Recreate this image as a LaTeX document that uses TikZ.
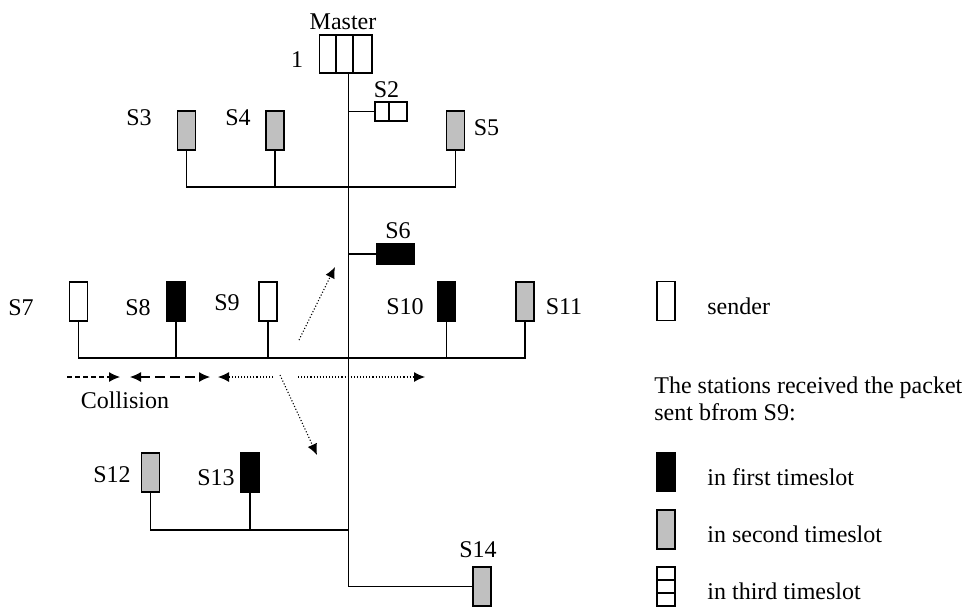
\documentclass[tikz,border=0pt]{standalone}
\usepackage{fontspec}
\setmainfont{Liberation Serif}
\usetikzlibrary{arrows.meta}
\definecolor{slotgray}{RGB}{192,192,192}
\tikzset{
 station/.style={draw,line width=0.65pt,minimum width=9pt,minimum height=19.5pt,inner sep=0pt},
 sender/.style={station,fill=white},
 first/.style={station,fill=black},
 second/.style={station,fill=slotgray},
 cell/.style={draw,line width=0.65pt,inner sep=0pt},
 wire/.style={line width=0.6pt},
 lbl/.style={inner sep=0pt,anchor=base},
 key/.style={inner sep=0pt,anchor=base west},
 hop/.style={line width=0.55pt,-{Latex[length=5.5pt,width=5pt]}}
}
\begin{document}
\begin{tikzpicture}[x=0.5pt,y=-0.5pt,>=Latex,font=\fontsize{12}{14}\selectfont]
\useasboundingbox (0,0) rectangle (962,606);
\node[cell,minimum width=8.5pt,minimum height=19pt] (m1) at (328,54){}; \node[cell,minimum width=8.5pt,minimum height=19pt] (m2) at (344.5,54){}; \node[cell,minimum width=9.5pt,minimum height=19pt] (m3) at (362.5,54){};
\node[lbl] (tmaster) at (343,29){Master}; \node[lbl] (tone) at (297,67){1};
\coordinate (top) at (348.5,73);
\node[cell,minimum width=7pt,minimum height=9.5pt] (s2a) at (382,111.5){}; \node[cell,minimum width=9pt,minimum height=9.5pt] (s2b) at (398,111.5){};
\node[lbl] (ts2) at (386.5,97){S2};
\node[second] (s3) at (186.5,130.5){}; \node[second] (s4) at (275,130.5){}; \node[second] (s5) at (455.5,130.5){};
\node[lbl] (ts3) at (139,125){S3}; \node[lbl] (ts4) at (238,125){S4}; \node[lbl] (ts5) at (486.5,135){S5};
\node[first,minimum width=18.5pt,minimum height=10pt] (s6) at (395.5,254){}; \node[lbl] (ts6) at (398,238){S6};
\node[sender] (s7) at (78.5,301.5){}; \node[first] (s8) at (176,301.5){}; \node[sender] (s9) at (268,301.5){};
\node[first] (s10) at (446.5,301.5){}; \node[second] (s11) at (525,301.5){};
\node[lbl] (ts7) at (21,315){S7}; \node[lbl] (ts8) at (138,315){S8}; \node[lbl] (ts9) at (227,310){S9};
\node[lbl] (ts10) at (405,314){S10}; \node[lbl] (ts11) at (564,314){S11};
\node[second] (s12) at (150.5,472.5){}; \node[first] (s13) at (250,472.5){};
\node[lbl] (ts12) at (112,482){S12}; \node[lbl] (ts13) at (216,485){S13};
\node[second] (s14) at (482,586.5){}; \node[lbl] (ts14) at (478,557){S14};
\coordinate (b1) at (348.5,187); \coordinate (b2) at (348.5,358); \coordinate (b3) at (348.5,530);
\draw[wire] (top) |- (s14.west);
\draw[wire] (s2a.west) -- (s2a.west -| top); \draw[wire] (s6.west) -- (s6.west -| top);
\draw[wire] (s3.south) -- (s3.south |- b1) -- (s5.south |- b1) -- (s5.south); \draw[wire] (s4.south) -- (s4.south |- b1);
\draw[wire] (s7.south) -- (s7.south |- b2) -- (s11.south |- b2) -- (s11.south);
\draw[wire] (s8.south) -- (s8.south |- b2); \draw[wire] (s9.south) -- (s9.south |- b2); \draw[wire] (s10.south) -- (s10.south |- b2);
\draw[wire] (s12.south) -- (s12.south |- b3) -- (b3); \draw[wire] (s13.south) -- (s13.south |- b3);
\coordinate (up0) at (299,340); \coordinate (up1) at (335,267);
\coordinate (dn0) at (280,375); \coordinate (dn1) at (317,455);
\coordinate (l0) at (273,377); \coordinate (l1) at (218,377);
\coordinate (r0) at (298,377); \coordinate (r1) at (425,377);
\coordinate (c0) at (67,377); \coordinate (c1) at (120,377);
\coordinate (c2) at (130,377); \coordinate (c3) at (210,377);
\draw[hop,densely dotted] (up0) -- (up1); \draw[hop,densely dotted] (dn0) -- (dn1);
\draw[hop,densely dotted] (l0) -- (l1); \draw[hop,densely dotted] (r0) -- (r1);
\draw[hop,dash pattern=on 2.5pt off 1.5pt] (c0) -- (c1);
\draw[hop,{Latex[length=5.5pt,width=5pt]}-{Latex[length=5.5pt,width=5pt]},dash pattern=on 5pt off 2.5pt] (c2) -- (c3);
\node[lbl] (tcoll) at (125,408){Collision};
\node[sender] (k0) at (666,301){}; \node[key] (tk0) at (707,314){sender};
\node[key] (tnote1) at (654,393){The stations received the packet};
\node[key] (tnote2) at (654,420){sent bfrom S9:};
\node[first] (k1) at (666,472){}; \node[key] (tk1) at (707,485){in first timeslot};
\node[second] (k2) at (666,529.5){}; \node[key] (tk2) at (707,542){in second timeslot};
\node[cell,minimum width=9pt,minimum height=6.5pt] (k3a) at (666,573.5){}; \node[cell,minimum width=9pt,minimum height=6.5pt] (k3b) at (666,586.5){}; \node[cell,minimum width=9pt,minimum height=6.5pt] (k3c) at (666,599.5){};
\node[key] (tk3) at (707,599){in third timeslot};
\end{tikzpicture}
\end{document}
